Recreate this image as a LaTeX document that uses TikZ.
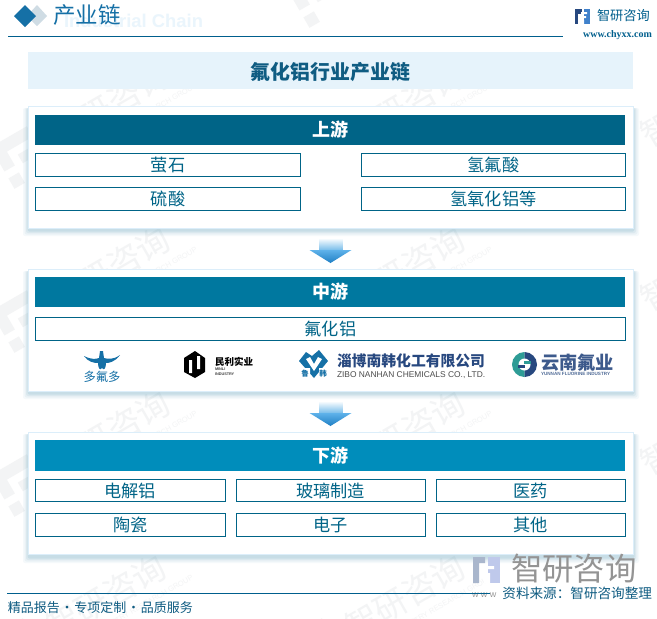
\documentclass[tikz,border=0pt]{standalone}
\usepackage{fontspec}
\setmainfont{Noto Sans CJK SC}
\newfontfamily\latinfont{Liberation Sans}
\newfontfamily\webfont{Liberation Serif}
\definecolor{bandblue}{HTML}{E6F3FB}
\definecolor{paneledge}{HTML}{DCEEFA}
\definecolor{upc}{HTML}{006487}
\definecolor{midc}{HTML}{00789F}
\definecolor{lowc}{HTML}{008DBB}
\definecolor{titlec}{HTML}{1570A6}
\definecolor{linec}{HTML}{005F8D}
\definecolor{wm}{HTML}{F3F4F5}
\definecolor{footc}{HTML}{0F5C82}
\definecolor{stemc}{HTML}{78BDEA}
\definecolor{headtop}{HTML}{5FB2EA}
\definecolor{headbot}{HTML}{1F7FC4}
\definecolor{navyc}{HTML}{27487F}
\definecolor{tealc}{HTML}{2E9C96}
\tikzset{
  x=1pt,y=-1pt,
  every node/.style={inner sep=0pt,outer sep=0pt},
  headbar/.style={minimum height=30pt,minimum width=590pt,text=white,font=\fontsize{18}{18}\selectfont\bfseries},
  itembox/.style={draw=upc,line width=0.8pt,fill=white,text=upc,minimum height=23pt,font=\fontsize{17.2}{17.2}\selectfont},
  panelbox/.style={draw=paneledge,line width=1pt,fill=white,minimum width=605pt},
  wmtext/.style={text=wm,rotate=30,font=\fontsize{33}{33}\selectfont},
  wmsmall/.style={text=wm,rotate=30,font=\latinfont\fontsize{7.5}{7.5}\selectfont},
}
\newcommand{\softshadow}[4]{%
  \foreach \d/\o in {6/0.05,4.5/0.07,3/0.09,1.5/0.13}{
    \fill[blue!30!cyan!40!gray,opacity=\o,rounded corners=2pt] (#1-\d+1,#2+2) rectangle (#3+\d-1,#4+\d+2);
  }}
\newcommand{\downarrowshape}[2]{%
  \shade[top color=white,bottom color=stemc] (#1-11,#2) rectangle (#1+12,#2+12);
  \shade[top color=headtop,bottom color=headbot] (#1-21,#2+12) -- (#1+21,#2+12) -- (#1,#2+25) -- cycle;}
\newcommand{\wmlogo}[2]{%
  \begin{scope}[shift={(#1,#2)},rotate=30]
    \fill[wm] (-26,-24) -- (16,-24) -- (16,-12) -- (-14,-12) -- (-14,4) -- (-26,4) -- cycle;
    \fill[wm] (-26,12) rectangle (-14,24);
    \fill[wm] (-6,-4) -- (24,-4) -- (24,6) -- (-6,6) -- cycle;
  \end{scope}}
\newcommand{\watermark}[2]{%
  \begin{scope}[shift={(#1,#2)}]
    \node[wmtext] at (0,0) {智研咨询};
    \node[wmsmall] at (27,14) {CHINA INDUSTRY RESEARCH GROUP};
  \end{scope}
  \wmlogo{#1-85}{#2+50}}
\begin{document}
\begin{tikzpicture}
\useasboundingbox (0,0) rectangle (657,619);
\fill[white] (0,0) rectangle (657,619);
% watermarks
\watermark{110}{105}\watermark{405}{105}
\watermark{110}{269}\watermark{405}{269}
\watermark{110}{433}\watermark{405}{433}
\watermark{106}{597}\watermark{405}{597}
\wmlogo{320}{-6}
\node[wmtext] at (700,105) {智研咨询};
\node[wmtext] at (700,269) {智研咨询};
\node[wmtext] at (700,433) {智研咨询};
% header
\node[font=\latinfont\bfseries\fontsize{18.4}{18.4}\selectfont,text=bandblue!85!white,anchor=west] (ghost) at (64,20.5) {Industrial Chain};
\fill[paneledge!80!gray!90] (37,5) -- (47,16) -- (37,26) -- (27,16) -- cycle;
\fill[titlec] (25,5) -- (36,16) -- (25,27) -- (14,16) -- cycle;
\node[font=\fontsize{22.5}{23}\selectfont,text=titlec,anchor=west] (pagetitle) at (53,15) {产业链};
\draw[linec,line width=1pt] (8,36) -- (563,36);
% top logo
\fill[navyc] (575,9) rectangle (582,14);
\fill[navyc] (575,14) rectangle (578,24);
\fill[cyan!50!blue!80] (584,9) rectangle (590,24);
\fill[white] (581,12) rectangle (587,14) (578,16) rectangle (586,18) (581,20) rectangle (584,24);
\node[font=\fontsize{13.2}{14}\selectfont,text=linec,anchor=west] (brand) at (597,16) {智研咨询};
\node[font=\webfont\bfseries\fontsize{10}{10}\selectfont,text=linec,anchor=east] (web) at (652,35) {www.chyxx.com};
% title band
\fill[bandblue] (28,52) rectangle (633,89);
\node[font=\fontsize{19.9}{20}\selectfont\bfseries,text=footc] (main) at (330.5,72) {氟化铝行业产业链};
% panels
\softshadow{28}{106}{634}{228}
\softshadow{28}{269}{634}{391}
\softshadow{28}{432}{634}{555}
\node[panelbox,anchor=north west,minimum height=122pt] (p1) at (28.5,106.5) {};
\node[panelbox,anchor=north west,minimum height=122pt] (p2) at (28.5,269.5) {};
\node[panelbox,anchor=north west,minimum height=122pt] (p3) at (28.5,432.5) {};
% upstream
\node[headbar,fill=upc,anchor=north west] (up) at (35,115) {上游};
\node[itembox,anchor=north west,minimum width=265pt] (a1) at (35.5,153.5) {萤石};
\node[itembox,anchor=north west,minimum width=265pt] (a2) at (35.5,187.5) {硫酸};
\node[itembox,anchor=north west,minimum width=264pt] (a3) at (361.5,153.5) {氢氟酸};
\node[itembox,anchor=north west,minimum width=264pt] (a4) at (361.5,187.5) {氢氧化铝等};
\downarrowshape{330.5}{238}
% midstream
\node[headbar,fill=midc,anchor=north west] (mid) at (35,277) {中游};
\node[itembox,anchor=north west,minimum width=590pt] (b1) at (35.5,317) {氟化铝};
% logos
\fill[titlec] (84,356) .. controls (92,360) and (96,359) .. (99,358) -- (100,351) -- (103,351) -- (104,358) .. controls (108,359) and (113,360) .. (120,355) .. controls (115,362) and (109,363) .. (106,363) .. controls (106,368) and (104,371) .. (102,368) .. controls (100,371) and (98,368) .. (98,363) .. controls (94,363) and (88,362) .. (84,356) -- cycle;
\node[font=\fontsize{12.3}{12.3}\selectfont,text=titlec] (ld) at (102,377) {多氟多};
\fill[black] (184,358) -- (195,351) -- (205,358) -- (205,372) -- (195,378) -- (184,372) -- cycle;
\fill[white] (189,360) rectangle (192,373) (197,356) rectangle (200,369);
\node[font=\fontsize{9.5}{9.5}\selectfont\bfseries,anchor=west] (lm) at (215,362) {民利实业};
\node[font=\latinfont\fontsize{3.8}{5}\selectfont\bfseries,anchor=west,align=left,text=black!75] (lm2) at (215,371.5) {MINLI\\INDUSTRY};
\fill[titlec] (299,361) -- (306,352) -- (312,356) -- (319,350) -- (328,361) -- (314,378) -- cycle;
\fill[white] (306,359) -- (314,371) -- (322,359) -- (318,357) -- (314,364) -- (310,357) -- cycle;
\fill[white] (301,368) rectangle (310,378) (319,368) rectangle (328,378);
\node[font=\fontsize{7.5}{7.5}\selectfont\bfseries,text=titlec] (ll) at (305,374) {鲁};
\node[font=\fontsize{7.5}{7.5}\selectfont\bfseries,text=titlec] (lh) at (323,374) {韩};
\node[font=\fontsize{14.8}{15}\selectfont\bfseries,text=navyc,anchor=west] (lz) at (337,360.5) {淄博南韩化工有限公司};
\node[font=\latinfont\fontsize{8.4}{8.4}\selectfont,text=black!70,anchor=west] (lz2) at (337,375) {ZIBO NANHAN CHEMICALS CO., LTD.};
\begin{scope}
\clip (512,352) rectangle (524.5,377);
\fill[tealc] (524.5,364.5) circle[radius=12.5];
\end{scope}
\begin{scope}
\clip (524.5,352) rectangle (537,377);
\fill[navyc] (524.5,364.5) circle[radius=12.5];
\end{scope}
\fill[white] (524.5,364.5) circle[radius=6];
\fill[tealc] (524,361) rectangle (531,364);
\fill[navyc] (518,365) rectangle (525,368);
\node[font=\fontsize{18.2}{19}\selectfont\bfseries,text=navyc!90!white,anchor=west] (ly) at (541,362.5) {云南氟业};
\node[font=\latinfont\fontsize{4.6}{4.6}\selectfont\bfseries,text=navyc!80!white,anchor=west] (ly2) at (541,373.5) {YUNNAN FLUORINE INDUSTRY};
\downarrowshape{330.5}{401}
% downstream
\node[headbar,fill=lowc,anchor=north west,minimum height=31pt] (low) at (35,440) {下游};
\node[itembox,anchor=north west,minimum width=189.5pt,minimum height=22pt] (c1) at (35.5,479.5) {电解铝};
\node[itembox,anchor=north west,minimum width=189.5pt,minimum height=22pt] (c2) at (236,479.5) {玻璃制造};
\node[itembox,anchor=north west,minimum width=189.5pt,minimum height=22pt] (c3) at (436,479.5) {医药};
\node[itembox,anchor=north west,minimum width=189.5pt,minimum height=23pt] (c4) at (35.5,513) {陶瓷};
\node[itembox,anchor=north west,minimum width=189.5pt,minimum height=23pt] (c5) at (236,513) {电子};
\node[itembox,anchor=north west,minimum width=189.5pt,minimum height=23pt] (c6) at (436,513) {其他};
% footer
\fill[navyc!40] (473,557) rectangle (485,563) (473,563) rectangle (479,583);
\fill[cyan!40!blue!25] (488,557) rectangle (500,583);
\fill[white] (480,566) rectangle (494,569) (484,573) rectangle (490,583);
\node[font=\fontsize{31.4}{32}\selectfont,text=black!42,anchor=west] (bigbrand) at (511,569) {智研咨询};
\node[font=\latinfont\fontsize{9}{9}\selectfont,text=black!40,anchor=west] (bigweb) at (472,595) {w w w};
\draw[linec,line width=1pt] (7,593) -- (490,593);
\fill[white] (501,585) rectangle (655,602);
\node[font=\fontsize{13.6}{14}\selectfont,text=footc,anchor=east] (src) at (652,593.5) {资料来源：智研咨询整理};
\node[font=\fontsize{13}{14}\selectfont,text=footc,anchor=west] (foot) at (8,608) {精品报告\makebox[14.5pt]{·}专项定制\makebox[14.5pt]{·}品质服务};
\end{tikzpicture}
\end{document}
